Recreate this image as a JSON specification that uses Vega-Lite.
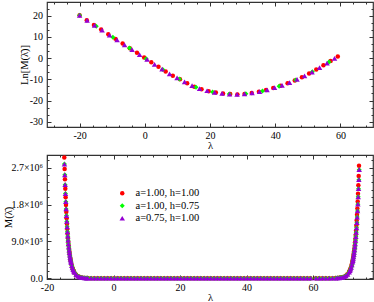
{
"$schema": "https://vega.github.io/schema/vega-lite/v6.json",
"padding": {"left": 3, "top": 0, "right": 0, "bottom": 0},
"spacing": 1,
"config": {
 "font": "Liberation Serif",
 "view": {"stroke": "#333", "strokeWidth": 1.2},
 "axis": {"domain": false, "grid": false, "minExtent": 0, "maxExtent": 200, "labelFont": "Liberation Serif", "labelFontSize": 10, "labelColor": "#000", "titleFont": "Liberation Serif", "titleFontSize": 10.5, "titleFontWeight": "normal", "titleColor": "#000", "titleBaseline": "middle", "tickColor": "#333", "tickWidth": 1, "labelPadding": 8.4, "titlePadding": 1, "labelFlush": false, "labelOverlap": false, "labelBound": false},
 "legend": {"labelFont": "Liberation Serif", "labelFontSize": 10.5, "labelColor": "#000"},
 "point": {"filled": true, "opacity": 1, "strokeWidth": 0}
},
"datasets": {
"top": [
{"s":"r","x":-20,"y":20.2},{"s":"r","x":-17.8,"y":17.9},{"s":"r","x":-15.6,"y":15.7},{"s":"r","x":-13.4,"y":13.5},{"s":"r","x":-11.2,"y":11.3},{"s":"r","x":-9,"y":9.1},{"s":"r","x":-6.8,"y":6.9},{"s":"r","x":-4.6,"y":4.7},{"s":"r","x":-2.4,"y":2.5},{"s":"r","x":-0.2,"y":0.3},{"s":"r","x":2,"y":-1.9},{"s":"r","x":4.2,"y":-4.1},{"s":"r","x":6.4,"y":-6.28},{"s":"r","x":8.6,"y":-8.26},{"s":"r","x":10.8,"y":-9.95},{"s":"r","x":13,"y":-11.85},{"s":"r","x":15.2,"y":-13.47},{"s":"r","x":17.4,"y":-14.63},{"s":"r","x":19.6,"y":-15.59},{"s":"r","x":21.8,"y":-16.25},{"s":"r","x":24,"y":-16.65},{"s":"r","x":26.2,"y":-16.97},{"s":"r","x":28.4,"y":-17.1},{"s":"r","x":30.6,"y":-16.86},{"s":"r","x":32.8,"y":-16.4},{"s":"r","x":35,"y":-15.85},{"s":"r","x":37.2,"y":-15.07},{"s":"r","x":39.4,"y":-14.12},{"s":"r","x":41.6,"y":-13.05},{"s":"r","x":43.8,"y":-11.86},{"s":"r","x":46,"y":-10.5},{"s":"r","x":48.2,"y":-9.0},{"s":"r","x":50.4,"y":-7.28},{"s":"r","x":52.6,"y":-5.41},{"s":"r","x":54.8,"y":-3.39},{"s":"r","x":57,"y":-1.3},{"s":"r","x":59.2,"y":0.79},
{"s":"g","x":-20,"y":20.2},{"s":"g","x":-14.9,"y":15.0},{"s":"g","x":-9.8,"y":9.9},{"s":"g","x":-4.7,"y":4.8},{"s":"g","x":0.4,"y":-0.3},{"s":"g","x":5.5,"y":-5.4},{"s":"g","x":10.6,"y":-9.8},{"s":"g","x":15.7,"y":-13.77},{"s":"g","x":20.8,"y":-15.99},{"s":"g","x":25.9,"y":-16.94},{"s":"g","x":31,"y":-16.8},{"s":"g","x":36.1,"y":-15.47},{"s":"g","x":41.2,"y":-13.25},{"s":"g","x":46.3,"y":-10.3},{"s":"g","x":51.4,"y":-6.46},{"s":"g","x":56.5,"y":-1.78},
{"s":"v","x":-20,"y":20.2},{"s":"v","x":-17.7,"y":17.8},{"s":"v","x":-15.4,"y":15.5},{"s":"v","x":-13.1,"y":13.2},{"s":"v","x":-10.8,"y":10.9},{"s":"v","x":-8.5,"y":8.6},{"s":"v","x":-6.2,"y":6.3},{"s":"v","x":-3.9,"y":4.0},{"s":"v","x":-1.6,"y":1.7},{"s":"v","x":0.7,"y":-0.6},{"s":"v","x":3,"y":-2.9},{"s":"v","x":5.3,"y":-5.2},{"s":"v","x":7.6,"y":-7.39},{"s":"v","x":9.9,"y":-9.28},{"s":"v","x":12.2,"y":-11.17},{"s":"v","x":14.5,"y":-12.98},{"s":"v","x":16.8,"y":-14.35},{"s":"v","x":19.1,"y":-15.39},{"s":"v","x":21.4,"y":-16.15},{"s":"v","x":23.7,"y":-16.61},{"s":"v","x":26,"y":-16.95},{"s":"v","x":28.3,"y":-17.1},{"s":"v","x":30.6,"y":-16.86},{"s":"v","x":32.9,"y":-16.38},{"s":"v","x":35.2,"y":-15.78},{"s":"v","x":37.5,"y":-14.95},{"s":"v","x":39.8,"y":-13.94},{"s":"v","x":42.1,"y":-12.8},{"s":"v","x":44.4,"y":-11.51},{"s":"v","x":46.7,"y":-10.05},{"s":"v","x":49,"y":-8.4},{"s":"v","x":51.3,"y":-6.55},{"s":"v","x":53.6,"y":-4.51},{"s":"v","x":55.9,"y":-2.35},{"s":"v","x":58.2,"y":-0.16}
],
"bot": [
{"s":"r","x":-14.8,"y":2950000},{"s":"r","x":-14.7,"y":2669000},{"s":"r","x":-14.6,"y":2415000},{"s":"r","x":-14.5,"y":2185000},{"s":"r","x":-14.4,"y":1977000},{"s":"r","x":-14.3,"y":1789000},{"s":"r","x":-14.2,"y":1619000},{"s":"r","x":-14.1,"y":1465000},{"s":"r","x":-14.0,"y":1326000},{"s":"r","x":-13.9,"y":1199000},{"s":"r","x":-13.8,"y":1085000},{"s":"r","x":-13.7,"y":982000},{"s":"r","x":-13.6,"y":889000},{"s":"r","x":-13.5,"y":804000},{"s":"r","x":-13.4,"y":727000},{"s":"r","x":-13.3,"y":658000},{"s":"r","x":-13.2,"y":596000},{"s":"r","x":-13.1,"y":539000},{"s":"r","x":-13.0,"y":488000},{"s":"r","x":-12.9,"y":441000},{"s":"r","x":-12.8,"y":399000},{"s":"r","x":-12.6,"y":327000},{"s":"r","x":-12.4,"y":267000},{"s":"r","x":-12.2,"y":219000},{"s":"r","x":-12.0,"y":179000},{"s":"r","x":-11.8,"y":147000},{"s":"r","x":-11.3,"y":89100},{"s":"r","x":-10.8,"y":54000},{"s":"r","x":-10.3,"y":32800},{"s":"r","x":-9.8,"y":19900},{"s":"r","x":-9.3,"y":12100},{"s":"r","x":-8.8,"y":7300},{"s":"r","x":-8.3,"y":4400},{"s":"r","x":-7.8,"y":2700},
{"s":"r","x":-6.8,"y":992},{"s":"r","x":-5.8,"y":365},{"s":"r","x":-4.8,"y":134},{"s":"r","x":-3.8,"y":49},{"s":"r","x":-2.8,"y":18},{"s":"r","x":-1.8,"y":7},{"s":"r","x":-0.8,"y":2},
{"s":"r","x":0.2,"y":0},{"s":"r","x":1.2,"y":0},{"s":"r","x":2.2,"y":0},{"s":"r","x":3.2,"y":0},{"s":"r","x":4.2,"y":0},{"s":"r","x":5.2,"y":0},{"s":"r","x":6.2,"y":0},{"s":"r","x":7.2,"y":0},{"s":"r","x":8.2,"y":0},{"s":"r","x":9.2,"y":0},{"s":"r","x":10.2,"y":0},{"s":"r","x":11.2,"y":0},{"s":"r","x":12.2,"y":0},{"s":"r","x":13.2,"y":0},{"s":"r","x":14.2,"y":0},{"s":"r","x":15.2,"y":0},{"s":"r","x":16.2,"y":0},{"s":"r","x":17.2,"y":0},{"s":"r","x":18.2,"y":0},{"s":"r","x":19.2,"y":0},{"s":"r","x":20.2,"y":0},{"s":"r","x":21.2,"y":0},{"s":"r","x":22.2,"y":0},{"s":"r","x":23.2,"y":0},{"s":"r","x":24.2,"y":0},{"s":"r","x":25.2,"y":0},{"s":"r","x":26.2,"y":0},{"s":"r","x":27.2,"y":0},{"s":"r","x":28.2,"y":0},{"s":"r","x":29.2,"y":0},{"s":"r","x":30.2,"y":0},{"s":"r","x":31.2,"y":0},{"s":"r","x":32.2,"y":0},{"s":"r","x":33.2,"y":0},{"s":"r","x":34.2,"y":0},{"s":"r","x":35.2,"y":0},{"s":"r","x":36.2,"y":0},{"s":"r","x":37.2,"y":0},{"s":"r","x":38.2,"y":0},{"s":"r","x":39.2,"y":0},{"s":"r","x":40.2,"y":0},{"s":"r","x":41.2,"y":0},{"s":"r","x":42.2,"y":0},{"s":"r","x":43.2,"y":0},{"s":"r","x":44.2,"y":0},{"s":"r","x":45.2,"y":0},{"s":"r","x":46.2,"y":0},{"s":"r","x":47.2,"y":0},{"s":"r","x":48.2,"y":0},{"s":"r","x":49.2,"y":0},{"s":"r","x":50.2,"y":0},{"s":"r","x":51.2,"y":0},{"s":"r","x":52.2,"y":0},{"s":"r","x":53.2,"y":0},{"s":"r","x":54.2,"y":0},{"s":"r","x":55.2,"y":0},{"s":"r","x":56.2,"y":0},{"s":"r","x":57.2,"y":0},{"s":"r","x":58.2,"y":0},{"s":"r","x":59.2,"y":0},
{"s":"r","x":60.8,"y":11},{"s":"r","x":61.8,"y":28},{"s":"r","x":62.8,"y":73},{"s":"r","x":63.8,"y":190},{"s":"r","x":64.8,"y":500},{"s":"r","x":65.8,"y":1300},
{"s":"r","x":66.8,"y":3400},{"s":"r","x":67.3,"y":5500},{"s":"r","x":67.8,"y":8800},{"s":"r","x":68.3,"y":14200},{"s":"r","x":68.8,"y":23000},{"s":"r","x":69.3,"y":37100},{"s":"r","x":69.8,"y":59800},{"s":"r","x":70.3,"y":96500},{"s":"r","x":70.8,"y":155000},{"s":"r","x":71.0,"y":188000},{"s":"r","x":71.2,"y":228000},{"s":"r","x":71.4,"y":276000},{"s":"r","x":71.6,"y":335000},{"s":"r","x":71.8,"y":405000},{"s":"r","x":71.9,"y":446000},{"s":"r","x":72.0,"y":491000},{"s":"r","x":72.1,"y":540000},{"s":"r","x":72.2,"y":595000},{"s":"r","x":72.3,"y":654000},{"s":"r","x":72.4,"y":720000},{"s":"r","x":72.5,"y":792000},{"s":"r","x":72.6,"y":872000},{"s":"r","x":72.7,"y":960000},{"s":"r","x":72.8,"y":1056000},{"s":"r","x":72.9,"y":1162000},{"s":"r","x":73.0,"y":1279000},{"s":"r","x":73.1,"y":1407000},{"s":"r","x":73.2,"y":1549000},{"s":"r","x":73.3,"y":1704000},{"s":"r","x":73.4,"y":1875000},{"s":"r","x":73.5,"y":2064000},{"s":"r","x":73.6,"y":2271000},{"s":"r","x":73.7,"y":2499000},{"s":"r","x":73.8,"y":2750000},
{"s":"g","x":-14.75,"y":2790000},{"s":"g","x":-14.65,"y":2525000},{"s":"g","x":-14.55,"y":2284000},{"s":"g","x":-14.45,"y":2067000},{"s":"g","x":-14.35,"y":1870000},{"s":"g","x":-14.25,"y":1692000},{"s":"g","x":-14.15,"y":1531000},{"s":"g","x":-14.05,"y":1386000},{"s":"g","x":-13.95,"y":1254000},{"s":"g","x":-13.85,"y":1134000},{"s":"g","x":-13.75,"y":1026000},{"s":"g","x":-13.65,"y":929000},{"s":"g","x":-13.55,"y":840000},{"s":"g","x":-13.45,"y":760000},{"s":"g","x":-13.35,"y":688000},{"s":"g","x":-13.25,"y":623000},{"s":"g","x":-13.15,"y":563000},{"s":"g","x":-13.05,"y":510000},{"s":"g","x":-12.95,"y":461000},{"s":"g","x":-12.85,"y":417000},{"s":"g","x":-12.75,"y":378000},{"s":"g","x":-12.55,"y":309000},{"s":"g","x":-12.35,"y":253000},{"s":"g","x":-12.15,"y":207000},{"s":"g","x":-11.95,"y":170000},{"s":"g","x":-11.75,"y":139000},{"s":"g","x":-11.25,"y":84300},{"s":"g","x":-10.75,"y":51100},{"s":"g","x":-10.25,"y":31000},{"s":"g","x":-9.75,"y":18800},{"s":"g","x":-9.25,"y":11400},{"s":"g","x":-8.75,"y":6900},{"s":"g","x":-8.25,"y":4200},{"s":"g","x":-7.75,"y":2500},
{"s":"g","x":-6.75,"y":936},{"s":"g","x":-5.75,"y":344},{"s":"g","x":-4.75,"y":127},{"s":"g","x":-3.75,"y":47},{"s":"g","x":-2.75,"y":17},{"s":"g","x":-1.75,"y":6},{"s":"g","x":-0.75,"y":2},
{"s":"g","x":0.25,"y":0},{"s":"g","x":1.25,"y":0},{"s":"g","x":2.25,"y":0},{"s":"g","x":3.25,"y":0},{"s":"g","x":4.25,"y":0},{"s":"g","x":5.25,"y":0},{"s":"g","x":6.25,"y":0},{"s":"g","x":7.25,"y":0},{"s":"g","x":8.25,"y":0},{"s":"g","x":9.25,"y":0},{"s":"g","x":10.25,"y":0},{"s":"g","x":11.25,"y":0},{"s":"g","x":12.25,"y":0},{"s":"g","x":13.25,"y":0},{"s":"g","x":14.25,"y":0},{"s":"g","x":15.25,"y":0},{"s":"g","x":16.25,"y":0},{"s":"g","x":17.25,"y":0},{"s":"g","x":18.25,"y":0},{"s":"g","x":19.25,"y":0},{"s":"g","x":20.25,"y":0},{"s":"g","x":21.25,"y":0},{"s":"g","x":22.25,"y":0},{"s":"g","x":23.25,"y":0},{"s":"g","x":24.25,"y":0},{"s":"g","x":25.25,"y":0},{"s":"g","x":26.25,"y":0},{"s":"g","x":27.25,"y":0},{"s":"g","x":28.25,"y":0},{"s":"g","x":29.25,"y":0},{"s":"g","x":30.25,"y":0},{"s":"g","x":31.25,"y":0},{"s":"g","x":32.25,"y":0},{"s":"g","x":33.25,"y":0},{"s":"g","x":34.25,"y":0},{"s":"g","x":35.25,"y":0},{"s":"g","x":36.25,"y":0},{"s":"g","x":37.25,"y":0},{"s":"g","x":38.25,"y":0},{"s":"g","x":39.25,"y":0},{"s":"g","x":40.25,"y":0},{"s":"g","x":41.25,"y":0},{"s":"g","x":42.25,"y":0},{"s":"g","x":43.25,"y":0},{"s":"g","x":44.25,"y":0},{"s":"g","x":45.25,"y":0},{"s":"g","x":46.25,"y":0},{"s":"g","x":47.25,"y":0},{"s":"g","x":48.25,"y":0},{"s":"g","x":49.25,"y":0},{"s":"g","x":50.25,"y":0},{"s":"g","x":51.25,"y":0},{"s":"g","x":52.25,"y":0},{"s":"g","x":53.25,"y":0},{"s":"g","x":54.25,"y":0},{"s":"g","x":55.25,"y":0},{"s":"g","x":56.25,"y":0},{"s":"g","x":57.25,"y":0},{"s":"g","x":58.25,"y":0},{"s":"g","x":59.25,"y":0},
{"s":"g","x":60.85,"y":10},{"s":"g","x":61.85,"y":27},{"s":"g","x":62.85,"y":70},{"s":"g","x":63.85,"y":183},{"s":"g","x":64.85,"y":480},{"s":"g","x":65.85,"y":1250},
{"s":"g","x":66.85,"y":3300},{"s":"g","x":67.35,"y":5300},{"s":"g","x":67.85,"y":8500},{"s":"g","x":68.35,"y":13700},{"s":"g","x":68.85,"y":22100},{"s":"g","x":69.35,"y":35700},{"s":"g","x":69.85,"y":57600},{"s":"g","x":70.35,"y":93000},{"s":"g","x":70.85,"y":150000},{"s":"g","x":71.05,"y":182000},{"s":"g","x":71.25,"y":220000},{"s":"g","x":71.45,"y":266000},{"s":"g","x":71.65,"y":323000},{"s":"g","x":71.85,"y":391000},{"s":"g","x":71.95,"y":430000},{"s":"g","x":72.05,"y":473000},{"s":"g","x":72.15,"y":521000},{"s":"g","x":72.25,"y":573000},{"s":"g","x":72.35,"y":631000},{"s":"g","x":72.45,"y":694000},{"s":"g","x":72.55,"y":764000},{"s":"g","x":72.65,"y":840000},{"s":"g","x":72.75,"y":925000},{"s":"g","x":72.85,"y":1018000},{"s":"g","x":72.95,"y":1120000},{"s":"g","x":73.05,"y":1232000},{"s":"g","x":73.15,"y":1356000},{"s":"g","x":73.25,"y":1492000},{"s":"g","x":73.35,"y":1642000},{"s":"g","x":73.45,"y":1807000},{"s":"g","x":73.55,"y":1989000},{"s":"g","x":73.65,"y":2188000},{"s":"g","x":73.75,"y":2408000},{"s":"g","x":73.85,"y":2650000},
{"s":"v","x":-14.75,"y":2790000},{"s":"v","x":-14.65,"y":2525000},{"s":"v","x":-14.55,"y":2284000},{"s":"v","x":-14.45,"y":2067000},{"s":"v","x":-14.35,"y":1870000},{"s":"v","x":-14.25,"y":1692000},{"s":"v","x":-14.15,"y":1531000},{"s":"v","x":-14.05,"y":1386000},{"s":"v","x":-13.95,"y":1254000},{"s":"v","x":-13.85,"y":1134000},{"s":"v","x":-13.75,"y":1026000},{"s":"v","x":-13.65,"y":929000},{"s":"v","x":-13.55,"y":840000},{"s":"v","x":-13.45,"y":760000},{"s":"v","x":-13.35,"y":688000},{"s":"v","x":-13.25,"y":623000},{"s":"v","x":-13.15,"y":563000},{"s":"v","x":-13.05,"y":510000},{"s":"v","x":-12.95,"y":461000},{"s":"v","x":-12.85,"y":417000},{"s":"v","x":-12.75,"y":378000},{"s":"v","x":-12.55,"y":309000},{"s":"v","x":-12.35,"y":253000},{"s":"v","x":-12.15,"y":207000},{"s":"v","x":-11.95,"y":170000},{"s":"v","x":-11.75,"y":139000},{"s":"v","x":-11.25,"y":84300},{"s":"v","x":-10.75,"y":51100},{"s":"v","x":-10.25,"y":31000},{"s":"v","x":-9.75,"y":18800},{"s":"v","x":-9.25,"y":11400},{"s":"v","x":-8.75,"y":6900},{"s":"v","x":-8.25,"y":4200},{"s":"v","x":-7.75,"y":2500},
{"s":"v","x":-6.75,"y":936},{"s":"v","x":-5.75,"y":344},{"s":"v","x":-4.75,"y":127},{"s":"v","x":-3.75,"y":47},{"s":"v","x":-2.75,"y":17},{"s":"v","x":-1.75,"y":6},{"s":"v","x":-0.75,"y":2},
{"s":"v","x":0.25,"y":0},{"s":"v","x":1.25,"y":0},{"s":"v","x":2.25,"y":0},{"s":"v","x":3.25,"y":0},{"s":"v","x":4.25,"y":0},{"s":"v","x":5.25,"y":0},{"s":"v","x":6.25,"y":0},{"s":"v","x":7.25,"y":0},{"s":"v","x":8.25,"y":0},{"s":"v","x":9.25,"y":0},{"s":"v","x":10.25,"y":0},{"s":"v","x":11.25,"y":0},{"s":"v","x":12.25,"y":0},{"s":"v","x":13.25,"y":0},{"s":"v","x":14.25,"y":0},{"s":"v","x":15.25,"y":0},{"s":"v","x":16.25,"y":0},{"s":"v","x":17.25,"y":0},{"s":"v","x":18.25,"y":0},{"s":"v","x":19.25,"y":0},{"s":"v","x":20.25,"y":0},{"s":"v","x":21.25,"y":0},{"s":"v","x":22.25,"y":0},{"s":"v","x":23.25,"y":0},{"s":"v","x":24.25,"y":0},{"s":"v","x":25.25,"y":0},{"s":"v","x":26.25,"y":0},{"s":"v","x":27.25,"y":0},{"s":"v","x":28.25,"y":0},{"s":"v","x":29.25,"y":0},{"s":"v","x":30.25,"y":0},{"s":"v","x":31.25,"y":0},{"s":"v","x":32.25,"y":0},{"s":"v","x":33.25,"y":0},{"s":"v","x":34.25,"y":0},{"s":"v","x":35.25,"y":0},{"s":"v","x":36.25,"y":0},{"s":"v","x":37.25,"y":0},{"s":"v","x":38.25,"y":0},{"s":"v","x":39.25,"y":0},{"s":"v","x":40.25,"y":0},{"s":"v","x":41.25,"y":0},{"s":"v","x":42.25,"y":0},{"s":"v","x":43.25,"y":0},{"s":"v","x":44.25,"y":0},{"s":"v","x":45.25,"y":0},{"s":"v","x":46.25,"y":0},{"s":"v","x":47.25,"y":0},{"s":"v","x":48.25,"y":0},{"s":"v","x":49.25,"y":0},{"s":"v","x":50.25,"y":0},{"s":"v","x":51.25,"y":0},{"s":"v","x":52.25,"y":0},{"s":"v","x":53.25,"y":0},{"s":"v","x":54.25,"y":0},{"s":"v","x":55.25,"y":0},{"s":"v","x":56.25,"y":0},{"s":"v","x":57.25,"y":0},{"s":"v","x":58.25,"y":0},{"s":"v","x":59.25,"y":0},
{"s":"v","x":60.85,"y":10},{"s":"v","x":61.85,"y":27},{"s":"v","x":62.85,"y":70},{"s":"v","x":63.85,"y":183},{"s":"v","x":64.85,"y":480},{"s":"v","x":65.85,"y":1250},
{"s":"v","x":66.85,"y":3300},{"s":"v","x":67.35,"y":5300},{"s":"v","x":67.85,"y":8500},{"s":"v","x":68.35,"y":13700},{"s":"v","x":68.85,"y":22100},{"s":"v","x":69.35,"y":35700},{"s":"v","x":69.85,"y":57600},{"s":"v","x":70.35,"y":93000},{"s":"v","x":70.85,"y":150000},{"s":"v","x":71.05,"y":182000},{"s":"v","x":71.25,"y":220000},{"s":"v","x":71.45,"y":266000},{"s":"v","x":71.65,"y":323000},{"s":"v","x":71.85,"y":391000},{"s":"v","x":71.95,"y":430000},{"s":"v","x":72.05,"y":473000},{"s":"v","x":72.15,"y":521000},{"s":"v","x":72.25,"y":573000},{"s":"v","x":72.35,"y":631000},{"s":"v","x":72.45,"y":694000},{"s":"v","x":72.55,"y":764000},{"s":"v","x":72.65,"y":840000},{"s":"v","x":72.75,"y":925000},{"s":"v","x":72.85,"y":1018000},{"s":"v","x":72.95,"y":1120000},{"s":"v","x":73.05,"y":1232000},{"s":"v","x":73.15,"y":1356000},{"s":"v","x":73.25,"y":1492000},{"s":"v","x":73.35,"y":1642000},{"s":"v","x":73.45,"y":1807000},{"s":"v","x":73.55,"y":1989000},{"s":"v","x":73.65,"y":2188000},{"s":"v","x":73.75,"y":2408000},{"s":"v","x":73.85,"y":2650000}
]
},
"resolve": {"scale": {"color": "independent", "shape": "independent", "size": "independent"}, "legend": {"color": "independent", "shape": "independent", "size": "independent"}},
"vconcat": [
{
 "width": 326, "height": 125,
 "data": {"name": "top"},
 "layer": [
  {"mark": {"type": "point", "filled": true},
   "encoding": {
    "x": {"field": "x", "type": "quantitative", "scale": {"domain": [-30, 70], "nice": false, "zero": false},
      "axis": {"orient": "bottom", "title": "λ", "titleY": 18.5, "labelPadding": 7.5, "values": [-28,-24,-20,-16,-12,-8,-4,0,4,8,12,16,20,24,28,32,36,40,44,48,52,56,60,64,68],
        "labelExpr": "datum.value % 20 == 0 ? '' + datum.value : ''",
        "tickSize": {"condition": {"test": "datum.value % 20 == 0", "value": -4}, "value": -2}}},
    "y": {"field": "y", "type": "quantitative", "scale": {"domain": [-32.5, 26.5], "nice": false, "zero": false},
      "axis": {"orient": "left", "title": "Ln[M(λ̄)]", "titleX": -22.3, "values": [-30,-26.667,-23.333,-20,-16.667,-13.333,-10,-6.667,-3.333,0,3.333,6.667,10,13.333,16.667,20,23.333],
        "labelExpr": "abs(datum.value % 10) < 0.01 ? '' + round(datum.value) : ''",
        "tickSize": {"condition": {"test": "abs(datum.value % 10) < 0.01", "value": -4}, "value": -2}}},
    "color": {"field": "s", "type": "nominal", "scale": {"domain": ["r","g","v"], "range": ["#ff0000","#00ff00","#9400d3"]}, "legend": null},
    "shape": {"field": "s", "type": "nominal", "scale": {"domain": ["r","g","v"], "range": ["circle","diamond","triangle-up"]}, "legend": null},
    "size": {"field": "s", "type": "nominal", "scale": {"domain": ["r","g","v"], "range": [20, 30, 22]}, "legend": null}
   }},
  {"mark": {"type": "point", "opacity": 0},
   "encoding": {
    "x": {"field": "x", "type": "quantitative", "scale": {"domain": [-30, 70], "nice": false, "zero": false},
      "axis": {"orient": "top", "title": null, "labels": false, "values": [-28,-24,-20,-16,-12,-8,-4,0,4,8,12,16,20,24,28,32,36,40,44,48,52,56,60,64,68],
        "tickSize": {"condition": {"test": "datum.value % 20 == 0", "value": -4}, "value": -2}}},
    "y": {"field": "y", "type": "quantitative", "scale": {"domain": [-32.5, 26.5], "nice": false, "zero": false},
      "axis": {"orient": "right", "title": null, "labels": false, "values": [-30,-26.667,-23.333,-20,-16.667,-13.333,-10,-6.667,-3.333,0,3.333,6.667,10,13.333,16.667,20,23.333],
        "tickSize": {"condition": {"test": "abs(datum.value % 10) < 0.01", "value": -4}, "value": -2}}}
   }}
 ],
 "resolve": {"axis": {"x": "independent", "y": "independent"}}
},
{
 "width": 326, "height": 124,
 "data": {"name": "bot"},
 "layer": [
  {"mark": {"type": "point", "filled": true},
   "encoding": {
    "x": {"field": "x", "type": "quantitative", "scale": {"domain": [-20, 78], "nice": false, "zero": false},
      "axis": {"orient": "bottom", "title": "λ", "titleY": 18.5, "labelPadding": 7.5, "values": [-20,-16,-12,-8,-4,0,4,8,12,16,20,24,28,32,36,40,44,48,52,56,60,64,68,72,76],
        "labelExpr": "datum.value % 20 == 0 ? '' + datum.value : ''",
        "tickSize": {"condition": {"test": "datum.value % 20 == 0", "value": -4}, "value": -2}}},
    "y": {"field": "y", "type": "quantitative", "scale": {"domain": [-20000, 3010000], "nice": false, "zero": false},
      "axis": {"orient": "left", "title": "M(λ̄)", "titleX": -38.3, "values": [0,180000,360000,540000,720000,900000,1080000,1260000,1440000,1620000,1800000,1980000,2160000,2340000,2520000,2700000,2880000],
        "labelExpr": "datum.value == 0 ? '0.0' : datum.value == 900000 ? '9.0×10⁵' : datum.value == 1800000 ? '1.8×10⁶' : datum.value == 2700000 ? '2.7×10⁶' : ''",
        "tickSize": {"condition": {"test": "datum.value % 900000 == 0", "value": -4}, "value": -2}}},
    "color": {"field": "s", "type": "nominal", "scale": {"domain": ["r","g","v"], "range": ["#ff0000","#00ff00","#9400d3"]},
      "legend": {"orient": "none", "legendX": 70, "legendY": 33, "title": null, "padding": 0, "rowPadding": 1.5, "labelOffset": 8, "symbolStrokeWidth": 0,
        "labelExpr": "datum.label == 'r' ? 'a=1.00, h=1.00' : datum.label == 'g' ? 'a=1.00, h=0.75' : 'a=0.75, h=1.00'"}},
    "shape": {"field": "s", "type": "nominal", "scale": {"domain": ["r","g","v"], "range": ["circle","diamond","triangle-up"]},
      "legend": {"orient": "none", "legendX": 70, "legendY": 33, "title": null, "padding": 0, "rowPadding": 1.5, "labelOffset": 8, "symbolStrokeWidth": 0,
        "labelExpr": "datum.label == 'r' ? 'a=1.00, h=1.00' : datum.label == 'g' ? 'a=1.00, h=0.75' : 'a=0.75, h=1.00'"}},
    "size": {"field": "s", "type": "nominal", "scale": {"domain": ["r","g","v"], "range": [20, 30, 22]},
      "legend": {"orient": "none", "legendX": 70, "legendY": 33, "title": null, "padding": 0, "rowPadding": 1.5, "labelOffset": 8, "symbolStrokeWidth": 0,
        "labelExpr": "datum.label == 'r' ? 'a=1.00, h=1.00' : datum.label == 'g' ? 'a=1.00, h=0.75' : 'a=0.75, h=1.00'"}}
   }},
  {"mark": {"type": "point", "opacity": 0},
   "encoding": {
    "x": {"field": "x", "type": "quantitative", "scale": {"domain": [-20, 78], "nice": false, "zero": false},
      "axis": {"orient": "top", "title": null, "labels": false, "values": [-20,-16,-12,-8,-4,0,4,8,12,16,20,24,28,32,36,40,44,48,52,56,60,64,68,72,76],
        "tickSize": {"condition": {"test": "datum.value % 20 == 0", "value": -4}, "value": -2}}},
    "y": {"field": "y", "type": "quantitative", "scale": {"domain": [-20000, 3010000], "nice": false, "zero": false},
      "axis": {"orient": "right", "title": null, "labels": false, "values": [0,180000,360000,540000,720000,900000,1080000,1260000,1440000,1620000,1800000,1980000,2160000,2340000,2520000,2700000,2880000],
        "tickSize": {"condition": {"test": "datum.value % 900000 == 0", "value": -4}, "value": -2}}}
   }}
 ],
 "resolve": {"axis": {"x": "independent", "y": "independent"}}
}
]
}
